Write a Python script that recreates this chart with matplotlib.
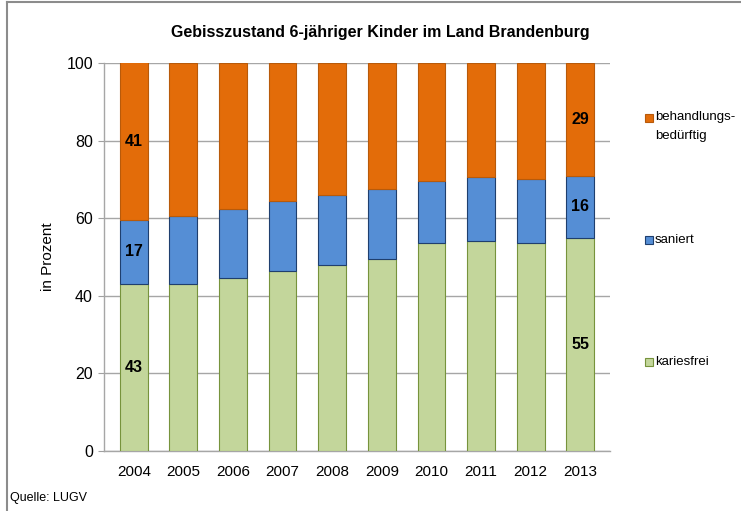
import numpy as np
import matplotlib.pyplot as plt
from matplotlib.patches import Rectangle
from matplotlib.lines import Line2D

plt.rcParams['font.family'] = ['Liberation Sans', 'DejaVu Sans']

years = ['2004', '2005', '2006', '2007', '2008', '2009', '2010', '2011', '2012', '2013']
kariesfrei = [43, 43, 44.5, 46.5, 48, 49.5, 53.5, 54, 53.5, 55]
saniert = [16.6, 17.5, 18, 18, 18, 18, 16, 16.5, 16.5, 16]
behandlung = [40.6, 39.5, 37.5, 35.5, 34, 32.5, 30.5, 29.5, 30, 29]

# welche Balken beschriftet werden
label_idx = [0, 9]

names = ['behandlungs-\nbedürftig', 'saniert', 'kariesfrei']
colors = ['#E36C09', '#558ED5', '#C3D69B']
edges = ['#B85A0A', '#1F3F6E', '#77933C']

fig = plt.figure(figsize=(7.41, 5.11), dpi=100)
ax = fig.add_axes([104 / 741, 60 / 511, 506 / 741, 388 / 511])

x = np.arange(len(years))
w = 0.56
ax.bar(x, kariesfrei, w, color=colors[2], edgecolor=edges[2], linewidth=0.8, zorder=3)
ax.bar(x, saniert, w, bottom=kariesfrei, color=colors[1], edgecolor=edges[1], linewidth=0.8, zorder=3)
bot2 = np.array(kariesfrei) + np.array(saniert)
ax.bar(x, behandlung, w, bottom=bot2, color=colors[0], edgecolor=edges[0], linewidth=0.8, zorder=3)

for i in label_idx:
    ax.text(x[i], kariesfrei[i] / 2, f'{round(kariesfrei[i])}', ha='center', va='center',
            fontsize=11.5, fontweight='bold', zorder=4)
    ax.text(x[i], kariesfrei[i] + saniert[i] / 2, f'{round(saniert[i])}', ha='center', va='center',
            fontsize=11.5, fontweight='bold', zorder=4)
    ax.text(x[i], (bot2[i] + 100) / 2, f'{round(behandlung[i])}',
            ha='center', va='center', fontsize=11.5, fontweight='bold', zorder=4)

ax.set_xlim(-0.6, len(years) - 0.4)
ax.set_ylim(0, 100)
ax.set_yticks(range(0, 101, 20))
ax.set_xticks(x)
ax.set_xticklabels(years, fontsize=11)
ax.tick_params(axis='y', labelsize=11.5, length=4, color='#A0A0A0', pad=4)
ax.tick_params(axis='x', length=0, pad=10)
ax.grid(axis='y', color='#A6A6A6', linewidth=1, zorder=0)
for s in ['top', 'right']:
    ax.spines[s].set_visible(False)
for s in ['left', 'bottom']:
    ax.spines[s].set_color('#A6A6A6')
    ax.spines[s].set_linewidth(1)
ax.set_ylabel('in Prozent', fontsize=11, labelpad=8)

fig.text(380 / 741, 1 - 33 / 511, 'Gebisszustand 6-jähriger Kinder im Land Brandenburg',
         ha='center', va='center', fontsize=11.5, fontweight='bold')
fig.text(10 / 741, 1 - 498 / 511, 'Quelle: LUGV', ha='left', va='center', fontsize=9)

# Legende
leg_y = [118, 240, 362]
for name, c, e, yy in zip(names, colors, edges, leg_y):
    fig.add_artist(Rectangle((645 / 741, 1 - (yy + 4) / 511), 8 / 741, 8 / 511,
                             facecolor=c, edgecolor=e, linewidth=0.8))
    fig.text(655 / 741, 1 - (yy - 7) / 511 if '\n' in name else 1 - yy / 511, name,
             ha='left', va='top' if '\n' in name else 'center',
             fontsize=9.5, linespacing=1.8)

# Rahmen
fig.add_artist(Line2D([7 / 741, 1], [1 - 2 / 511, 1 - 2 / 511], color='#8C8C8C', linewidth=1.5))
fig.add_artist(Line2D([7 / 741, 7 / 741], [0, 1 - 2 / 511], color='#8C8C8C', linewidth=1.5))

fig.savefig('out.png', dpi=100)
